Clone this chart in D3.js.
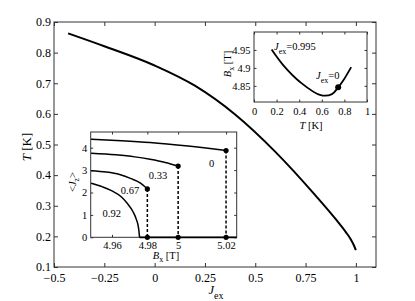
<!DOCTYPE html>
<html>
<head>
<meta charset="utf-8">
<script src="https://cdn.jsdelivr.net/npm/d3@7"></script>
<style>
  body { margin: 0; background: #fff; }
  svg { display: block; font-family: "Liberation Serif", "Times New Roman", serif; }
  svg text { font-family: "Liberation Serif", "Times New Roman", serif; }
  .frame { fill: none; stroke: #333; stroke-width: 1; }
  .axis path { display: none; }
  .axis line { stroke: #333; }
</style>
</head>
<body>
<svg id="chart" width="415" height="301"></svg>
<script>
// main curve: transition temperature vs exchange coupling
var jex = [-0.43, -0.25, 0, 0.2, 0.4, 0.6, 0.8, 0.9, 0.95, 0.975, 0.99, 1.0];
var tc  = [0.863, 0.821, 0.758, 0.692, 0.598, 0.476, 0.333, 0.256, 0.214, 0.19, 0.171, 0.155];
var mainXTicks = [-0.5, -0.25, 0, 0.25, 0.5, 0.75, 1];
var mainYTicks = [0.1, 0.2, 0.3, 0.4, 0.5, 0.6, 0.7, 0.8, 0.9];

// inset 1: <Jz> vs Bx for several Jex
var curveNames = ["0", "0.33", "0.67", "0.92"];
var bx0    = [4.949, 4.965, 4.98, 5.0, 5.02];
var jz0    = [4.375, 4.31, 4.23, 4.07, 3.87];
var bx033  = [4.949, 4.962, 4.972, 4.980, 4.988, 4.9948];
var jz033  = [3.75, 3.68, 3.59, 3.48, 3.34, 3.18];
var bx067  = [4.949, 4.957, 4.964, 4.970, 4.975, 4.9786];
var jz067  = [2.97, 2.91, 2.80, 2.62, 2.42, 2.16];
var bx092  = [4.949, 4.955, 4.96, 4.965, 4.968, 4.971, 4.9728, 4.974, 4.9745];
var jz092  = [2.41, 2.25, 2.07, 1.80, 1.52, 1.15, 0.8, 0.4, 0];
var jumpB  = [5.02, 4.9948, 4.9786];
var jumpJz = [3.87, 3.18, 2.16];
var in1XTicks = [4.96, 4.9786, 4.9948, 5.02];
var in1XLabels = ["4.96", "4.98", "5", "5.02"];
var in1YTicks = [0, 1, 2, 3, 4];

// inset 2: critical field vs T
var in2T = [0.156, 0.26, 0.41, 0.59, 0.69, 0.745, 0.80, 0.86];
var in2B = [4.951, 4.907, 4.86, 4.824, 4.827, 4.846, 4.87, 4.902];
var in2XTicks = [0, 0.2, 0.4, 0.6, 0.8, 1];
var in2YTicks = [4.85, 4.9, 4.95];

var svg = d3.select("#chart");

function styleTicks(s, fs) {
  s.attr("font-family", null).attr("font-size", null);
  s.selectAll("text").attr("font-size", fs).attr("fill", "#000");
}

function boxAxes(g, x, y, w, h, xt, yt, len, fs, padX, padY, xfmt, yfmt) {
  g.append("g").attr("class", "axis").attr("transform", "translate(0," + h + ")")
    .call(d3.axisBottom(x).tickValues(xt).tickSizeInner(-len).tickSizeOuter(0).tickPadding(padX).tickFormat(xfmt))
    .call(styleTicks, fs);
  g.append("g").attr("class", "axis")
    .call(d3.axisTop(x).tickValues(xt).tickSizeInner(-len).tickSizeOuter(0).tickFormat(""));
  g.append("g").attr("class", "axis")
    .call(d3.axisLeft(y).tickValues(yt).tickSizeInner(-len).tickSizeOuter(0).tickPadding(padY).tickFormat(yfmt))
    .call(styleTicks, fs);
  g.append("g").attr("class", "axis").attr("transform", "translate(" + w + ",0)")
    .call(d3.axisRight(y).tickValues(yt).tickSizeInner(-len).tickSizeOuter(0).tickFormat(""));
  g.append("rect").attr("class", "frame").attr("width", w).attr("height", h);
}

// ---- main plot
var M = { l: 54, t: 22, w: 322, h: 245 };
var x = d3.scaleLinear().domain([-0.5, 1.1]).range([0, M.w]);
var y = d3.scaleLinear().domain([0.1, 0.9]).range([M.h, 0]);
var gm = svg.append("g").attr("transform", "translate(" + M.l + "," + M.t + ")");
boxAxes(gm, x, y, M.w, M.h, mainXTicks, mainYTicks, 4, 12, 6, 3,
  function (d) { return d === 0 ? "0" : (d < 0 ? "\u2212" + Math.abs(d) : String(d)); },
  function (d) { return d.toFixed(1); });

gm.append("path")
  .datum(d3.range(jex.length))
  .attr("fill", "none").attr("stroke", "#000").attr("stroke-width", 2)
  .attr("d", d3.line().curve(d3.curveMonotoneX).x(function (i) { return x(jex[i]); }).y(function (i) { return y(tc[i]); }));

var xl = svg.append("text").attr("x", 216).attr("y", 294).attr("text-anchor", "middle").attr("font-size", 12.5);
xl.append("tspan").attr("font-style", "italic").text("J");
xl.append("tspan").attr("font-size", 10).attr("dy", 5).text("ex");

var yl = svg.append("text").attr("transform", "translate(31,147) rotate(-90)").attr("text-anchor", "middle").attr("font-size", 13);
yl.append("tspan").attr("font-style", "italic").text("T");
yl.append("tspan").text(" [K]");

// ---- inset 1
var I1 = { l: 90.7, t: 132, w: 146, h: 105.3 };
var x1 = d3.scaleLinear().domain([4.9488, 5.0256]).range([0, I1.w]);
var y1 = d3.scaleLinear().domain([0, 4.7]).range([I1.h, 0]);
var g1 = svg.append("g").attr("transform", "translate(" + I1.l + "," + I1.t + ")");
g1.append("rect").attr("width", I1.w).attr("height", I1.h).attr("fill", "#fff");
boxAxes(g1, x1, y1, I1.w, I1.h, in1XTicks, in1YTicks, 2.5, 10.5, 4.5, 3.5,
  function (d, i) { return in1XLabels[i]; }, function (d) { return String(d); });

var line1 = d3.line().curve(d3.curveMonotoneX);
[[bx0, jz0], [bx033, jz033], [bx067, jz067], [bx092, jz092]].forEach(function (c) {
  g1.append("path").attr("fill", "none").attr("stroke", "#000").attr("stroke-width", 1.5)
    .attr("d", line1(c[0].map(function (b, i) { return [x1(b), y1(c[1][i])]; })));
});
g1.append("line").attr("x1", x1(4.9745)).attr("x2", I1.w).attr("y1", y1(0)).attr("y2", y1(0))
  .attr("stroke", "#000").attr("stroke-width", 1.8);
jumpB.forEach(function (b, i) {
  g1.append("line").attr("x1", x1(b)).attr("x2", x1(b)).attr("y1", y1(jumpJz[i])).attr("y2", y1(0))
    .attr("stroke", "#000").attr("stroke-width", 1.5).attr("stroke-dasharray", "3,2");
  g1.append("circle").attr("cx", x1(b)).attr("cy", y1(jumpJz[i])).attr("r", 2.6);
  g1.append("circle").attr("cx", x1(b)).attr("cy", y1(0)).attr("r", 2.6);
});
var lblPos = [[211.7, 163], [158, 175], [130, 190], [111.7, 213]];
curveNames.forEach(function (n, i) {
  svg.append("text").attr("x", lblPos[i][0]).attr("y", lblPos[i][1] + 3.5)
    .attr("text-anchor", "middle").attr("font-size", 10.5).text(n);
});
var bl = svg.append("text").attr("x", 166).attr("y", 259).attr("text-anchor", "middle").attr("font-size", 10.5);
bl.append("tspan").attr("font-style", "italic").text("B");
bl.append("tspan").attr("font-size", 8).attr("dy", 3).text("x");
bl.append("tspan").attr("dy", -3).text(" [T]");
var jl = svg.append("text").attr("transform", "translate(76,182) rotate(-90)").attr("text-anchor", "middle").attr("font-size", 10.5);
jl.append("tspan").text("<");
jl.append("tspan").attr("font-style", "italic").text("J");
jl.append("tspan").attr("font-size", 8).attr("dy", 3).text("z");
jl.append("tspan").attr("dy", -3).text(">");

// ---- inset 2
var I2 = { l: 254, t: 32, w: 113, h: 70 };
var x2 = d3.scaleLinear().domain([0, 1]).range([0, I2.w]);
var y2 = d3.scaleLinear().domain([4.805, 5.0]).range([I2.h, 0]);
var g2 = svg.append("g").attr("transform", "translate(" + I2.l + "," + I2.t + ")");
g2.append("rect").attr("width", I2.w).attr("height", I2.h).attr("fill", "#fff");
boxAxes(g2, x2, y2, I2.w, I2.h, in2XTicks, in2YTicks, 2.5, 10.5, 6, 3.5,
  function (d) { return String(d); }, function (d) { return String(d); });
g2.append("path").attr("fill", "none").attr("stroke", "#000").attr("stroke-width", 1.8)
  .attr("d", d3.line().curve(d3.curveCatmullRom)(in2T.map(function (t, i) { return [x2(t), y2(in2B[i])]; })));
g2.append("circle").attr("cx", x2(in2T[5])).attr("cy", y2(in2B[5])).attr("r", 3);

var a1 = svg.append("text").attr("x", 274).attr("y", 50).attr("font-size", 10.5);
a1.append("tspan").attr("font-style", "italic").text("J");
a1.append("tspan").attr("font-size", 8).attr("dy", 4).text("ex");
a1.append("tspan").attr("dy", -4).text("=0.995");
var a2 = svg.append("text").attr("x", 316).attr("y", 79).attr("font-size", 10.5);
a2.append("tspan").attr("font-style", "italic").text("J");
a2.append("tspan").attr("font-size", 8).attr("dy", 4).text("ex");
a2.append("tspan").attr("dy", -4).text("=0");

var tl = svg.append("text").attr("x", 311).attr("y", 129).attr("text-anchor", "middle").attr("font-size", 10.5);
tl.append("tspan").attr("font-style", "italic").text("T");
tl.append("tspan").text(" [K]");
var bz = svg.append("text").attr("transform", "translate(231,64) rotate(-90)").attr("text-anchor", "middle").attr("font-size", 10.5);
bz.append("tspan").attr("font-style", "italic").text("B");
bz.append("tspan").attr("font-size", 8).attr("dy", 3).text("x");
bz.append("tspan").attr("dy", -3).text(" [T]");
</script>
</body>
</html>
